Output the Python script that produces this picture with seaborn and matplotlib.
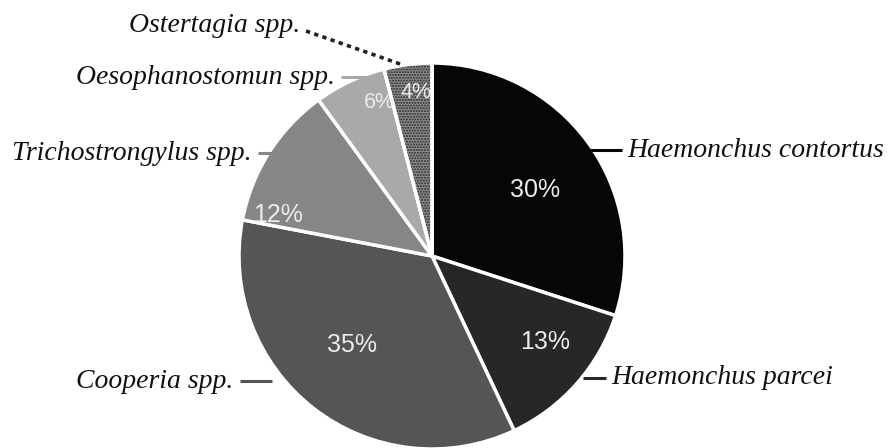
import matplotlib
matplotlib.use("Agg")
import matplotlib.pyplot as plt
from matplotlib.patches import Wedge
import seaborn as sns

# Species shares of the nematode population (%)
species = ["Haemonchus contortus", "Haemonchus parcei", "Cooperia spp.",
           "Trichostrongylus spp.", "Oesophanostomun spp.", "Ostertagia spp."]
shares = [30, 13, 35, 12, 6, 4]

sns.set_theme(style="white")
plt.rcParams["font.family"] = ["Liberation Serif", "DejaVu Serif"]

colors = ["#060606", "#272727", "#555555", "#868686", "#a9a9a9", "#8e8e8e"]

fig = plt.figure(figsize=(8.89, 4.48), dpi=100)
ax = fig.add_axes([0, 0, 1, 1])

cx, cy, R = 432, 192, 193
wedges, _, pcts = ax.pie(
    shares, colors=colors, startangle=90, counterclock=False,
    center=(cx, cy), radius=R, autopct="%d%%", pctdistance=0.7,
    wedgeprops=dict(edgecolor="white", linewidth=2.5),
    textprops=dict(color="#ececec", family="Liberation Sans", fontsize=18),
)

# dotted texture on the smallest slice
last = wedges[-1]
ax.add_patch(Wedge((cx, cy), R, last.theta1, last.theta2, facecolor="none",
                   edgecolor="#262626", hatch="......", linewidth=0))
ax.add_patch(Wedge((cx, cy), R, last.theta1, last.theta2, facecolor="none",
                   edgecolor="white", linewidth=2.5))

# percentage label placement (pixel coords, y measured upward) and sizes
pct_pos = [(535, 258), (545, 106), (352, 103), (278, 233), (379, 346), (416, 356)]
pct_size = [18, 18, 18, 18, 15.5, 15.5]
for t, p, s in zip(pcts, pct_pos, pct_size):
    t.set_position(p)
    t.set_fontsize(s)
    t.set_ha("center")
    t.set_va("center")

# leader lines and species names
label_cfg = [
    # text x, text y, ha, line x0, line x1, line colour
    (627, 298, "left", 590, 622, "#060606"),
    (611, 70, "left", 583, 606, "#272727"),
    (233, 67, "right", 240, 272, "#555555"),
    (252, 295, "right", 258, 282, "#868686"),
    (335, 371, "right", 341, 378, "#a9a9a9"),
]
for name, (tx, ty, ha, x0, x1, lc) in zip(species[:5], label_cfg):
    ax.plot([x0, x1], [ty, ty], color=lc, lw=2.2, solid_capstyle="butt")
    ax.text(tx, ty, name, ha=ha, va="center", fontsize=20, style="italic",
            color="#111111")

ax.plot([306, 403], [417, 383], color="#222222", lw=2.6, ls=(0, (1.2, 1.2)))
ax.text(300, 423, species[5], ha="right", va="center", fontsize=20,
        style="italic", color="#111111")

ax.set_xlim(0, 889)
ax.set_ylim(0, 448)
ax.set_aspect("equal")
ax.axis("off")

fig.savefig("out.png", dpi=100, facecolor="white")
